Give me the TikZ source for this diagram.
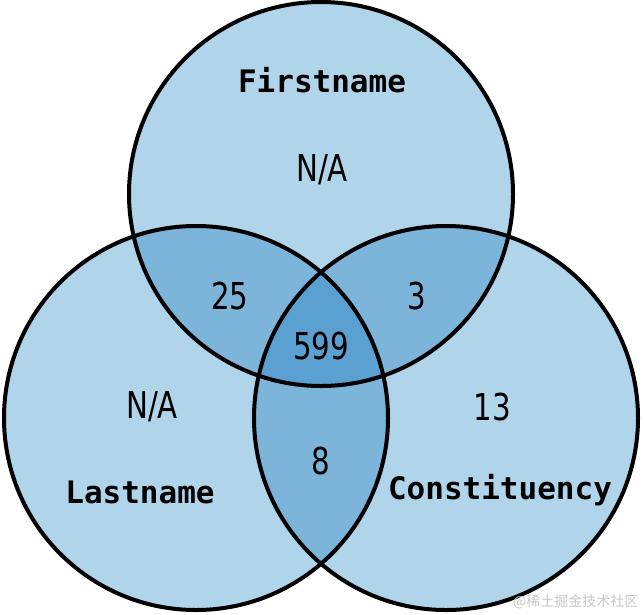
\documentclass[tikz,border=0pt]{standalone}
\usepackage{fontspec}
\newfontfamily\labfont{DejaVu Sans Mono}
\newfontfamily\numfont[FakeStretch=0.88]{DejaVu Sans Condensed}
\newfontfamily\cjk{Noto Sans CJK SC}
\definecolor{lightb}{RGB}{176,212,234}
\definecolor{midb}{RGB}{125,180,218}
\definecolor{darkb}{RGB}{90,160,208}
\begin{document}
\begin{tikzpicture}[x=1pt,y=-1pt,
  setlabel/.style={font=\labfont\bfseries\fontsize{31}{31}\selectfont},
  count/.style={font=\numfont\fontsize{37}{37}\selectfont},
  ring/.style={draw=black,line width=4pt}]
\useasboundingbox (0,0) rectangle (644,614);
\def\R{192}
\coordinate (cF) at (321,194);
\coordinate (cL) at (196,418);
\coordinate (cC) at (446,418);
% single fills
\fill[lightb] (cF) circle[radius=\R];
\fill[lightb] (cL) circle[radius=\R];
\fill[lightb] (cC) circle[radius=\R];
% pairwise overlaps
\begin{scope}\clip (cF) circle[radius=\R]; \fill[midb] (cL) circle[radius=\R]; \fill[midb] (cC) circle[radius=\R];\end{scope}
\begin{scope}\clip (cL) circle[radius=\R]; \fill[midb] (cC) circle[radius=\R];\end{scope}
% triple overlap
\begin{scope}\clip (cF) circle[radius=\R]; \clip (cL) circle[radius=\R]; \fill[darkb] (cC) circle[radius=\R];\end{scope}
% outlines
\draw[ring] (cF) circle[radius=\R];
\draw[ring] (cL) circle[radius=\R];
\draw[ring] (cC) circle[radius=\R];
% labels
\node[setlabel] (first) at (322,80) {Firstname};
\node[setlabel] (last) at (140,492) {Lastname};
\node[setlabel] (const) at (500,490) {Constituency};
\node[count] (nF) at (322,170) {N/A};
\node[count] (nL) at (152,407) {N/A};
\node[count] (nC) at (492,407) {13};
\node[count] (nFL) at (230,296) {25};
\node[count] (nFC) at (417,296) {3};
\node[count] (nLC) at (321,461) {8};
\node[count] (nAll) at (321,346) {599};
\node[font=\cjk\fontsize{14}{14}\selectfont,text=black!22,anchor=east] (wm) at (642,602) {@稀土掘金技术社区};
\end{tikzpicture}
\end{document}
